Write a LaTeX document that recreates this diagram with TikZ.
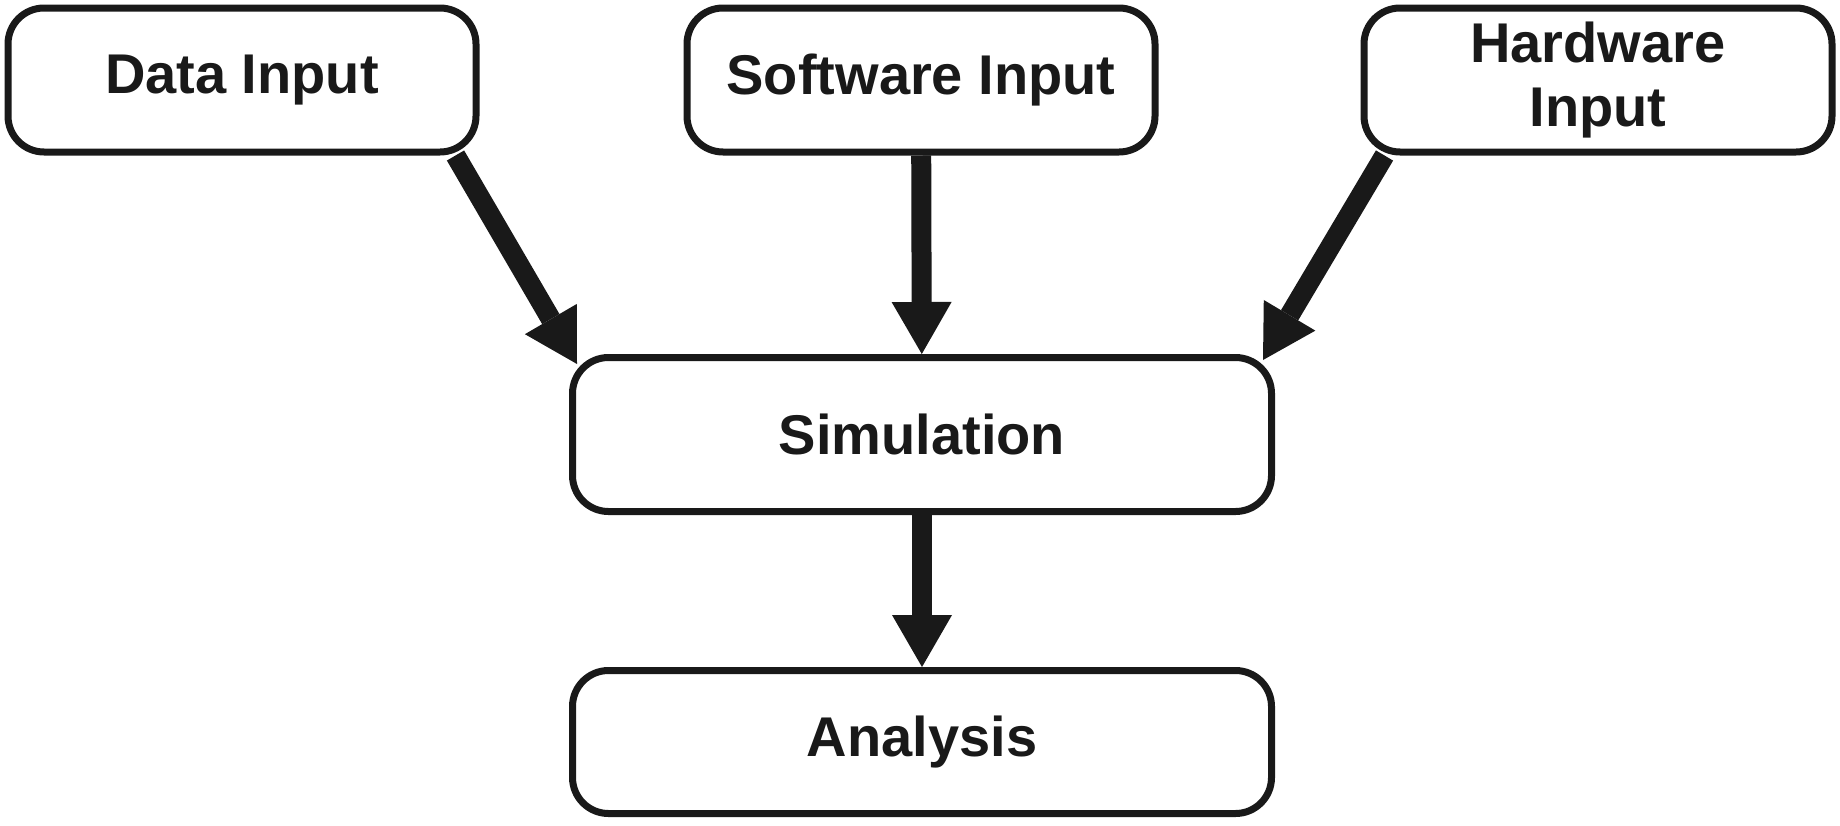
\documentclass[tikz,border=0pt]{standalone}
\usepackage{fontspec}
\setmainfont{Liberation Sans}
\usetikzlibrary{arrows.meta,positioning}

\begin{document}
\begin{tikzpicture}[x=0.5pt, y=-0.5pt,
    block/.style={rectangle, draw=black!90, line width=3.5pt, rounded corners=18pt, align=center, inner sep=0pt, text=black!90, font=\fontsize{28}{32}\selectfont\bfseries},
    inbox/.style={block, minimum width=234pt, minimum height=72pt},
    flow/.style={draw=black!90, line width=10pt, -{Triangle[length=26pt, width=30pt, line width=0pt, fill=black!90]}}]
    \useasboundingbox (0,0) rectangle (1840,825);
    \node [inbox] (data) at (242,80) {Data Input};
    \node [inbox] (soft) at (921,80) {Software Input};
    \node [inbox] (hard) at (1598,80) {Hardware\\Input};
    \node [block, minimum width=349.5pt, minimum height=77pt] (sim) at (922,434.5) {Simulation};
    \node [block, minimum width=349.5pt, minimum height=71.5pt, below=76pt of sim] (ana) {Analysis};

    \draw [flow] ([xshift=-12pt]data.south east) -- ([xshift=4pt, yshift=-5pt]sim.north west);
    \draw [flow] (soft) -- (sim);
    \draw [flow] ([xshift=12pt]hard.south west) -- ([xshift=-6pt, yshift=-3pt]sim.north east);
    \draw [flow] (sim) -- (ana);
\end{tikzpicture}
\end{document}
